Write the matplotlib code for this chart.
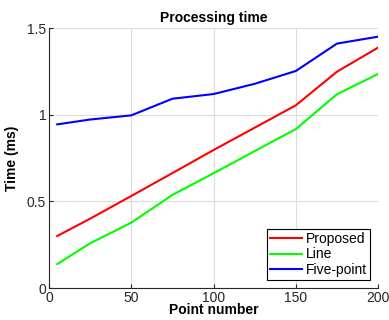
import matplotlib
matplotlib.use("Agg")
import matplotlib.pyplot as plt

x = [5, 25, 50, 75, 100, 125, 150, 175, 200]
proposed = [0.30, 0.40, 0.531, 0.663, 0.796, 0.925, 1.054, 1.248, 1.387]
line = [0.138, 0.258, 0.377, 0.537, 0.662, 0.790, 0.917, 1.118, 1.235]
five_point = [0.944, 0.972, 0.996, 1.092, 1.119, 1.178, 1.252, 1.410, 1.450]
labels = ["Proposed", "Line", "Five-point"]
colors = ["#ff0000", "#00ff00", "#0000ff"]

plt.rcParams['font.family'] = ['Liberation Sans', 'DejaVu Sans']

fig = plt.figure(figsize=(3.89, 3.2), dpi=100)
ax = fig.add_axes([0.126, 0.1, 0.846, 0.8125])

for ys, lab, c in zip([proposed, line, five_point], labels, colors):
    ax.plot(x, ys, color=c, lw=1.5, label=lab)

ax.set_xlim(0, 200)
ax.set_ylim(0, 1.5)
ax.set_xticks([0, 50, 100, 150, 200])
ax.set_yticks([0, 0.5, 1, 1.5])
ax.set_yticklabels(["0", "0.5", "1", "1.5"])
ax.grid(True, color="#dcdcdc", lw=0.8)
ax.set_axisbelow(True)
for s in ["top", "right"]:
    ax.spines[s].set_visible(False)
for s in ["left", "bottom"]:
    ax.spines[s].set_color("#262626")
    ax.spines[s].set_linewidth(0.8)
ax.tick_params(direction="in", length=3, labelsize=10, colors="#262626", width=0.8, pad=2)

ax.set_title("Processing time", fontsize=10, fontweight="bold", pad=4)
ax.set_xlabel("Point number", fontsize=10, fontweight="bold", labelpad=-1)
ax.set_ylabel("Time (ms)", fontsize=10, fontweight="bold", labelpad=6)

leg = ax.legend(loc="lower right", fontsize=10, frameon=True, fancybox=False,
                edgecolor="black", framealpha=1, borderpad=0.2, labelspacing=0.1,
                handlelength=2.3, handletextpad=0.3, borderaxespad=0.6)
leg.get_frame().set_linewidth(0.8)

fig.savefig("out.png", dpi=100)
